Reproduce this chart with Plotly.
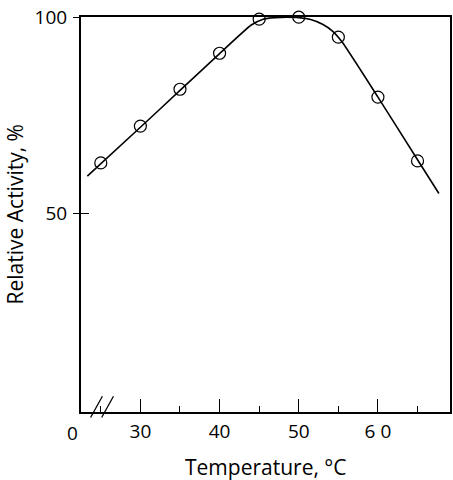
import plotly.graph_objects as go

# measured points
temp = [25, 30, 35, 40, 45, 50, 55, 60, 65]
activity = [62.8, 72.2, 81.6, 90.8, 99.5, 100.0, 94.9, 79.6, 63.3]

# hand-drawn fit curve
curve_t = [23.3, 30, 35, 40, 44, 45.5, 47, 48.5, 50, 51.5, 53, 54.3, 55.5, 60, 65, 67.7]
curve_y = [59.4, 71.9, 81.3, 90.7, 98.0, 99.5, 99.9, 100.0, 99.9, 99.4, 98.2, 96.4, 93.6, 79.6, 63.6, 55.0]

major_ticks = [30, 40, 50, 60]
major_labels = ["30", "40", "50", "6 0"]
y_ticks = [50, 100]

font = "Open Sans"

fig = go.Figure()
fig.add_trace(go.Scatter(x=curve_t, y=curve_y, mode="lines",
                         line=dict(color="black", width=1.6, shape="spline", smoothing=0.5),
                         hoverinfo="skip", showlegend=False))
fig.add_trace(go.Scatter(x=temp, y=activity, mode="markers",
                         marker=dict(symbol="circle-open", size=12, color="black",
                                     line=dict(width=1.2, color="black")),
                         cliponaxis=False, showlegend=False))
# second y axis only for the inner half of the y ticks
fig.add_trace(go.Scatter(x=[None], y=[None], yaxis="y2", showlegend=False))

fig.update_layout(
    width=453, height=480,
    margin=dict(l=81, r=3, t=17, b=68),
    paper_bgcolor="white", plot_bgcolor="white",
    font=dict(family=font, size=19, color="black"),
    xaxis=dict(range=[22.5, 69.1], showgrid=False, zeroline=False,
               showline=True, linecolor="black", linewidth=2, mirror=True,
               tickvals=major_ticks, ticktext=major_labels,
               ticks="inside", ticklen=13, tickwidth=1.3, tickcolor="black",
               minor=dict(dtick=5, tick0=35, ticks="inside", ticklen=6,
                          tickwidth=1.3, tickcolor="black", showgrid=False),
               ticklabelstandoff=1, automargin=False),
    yaxis=dict(range=[-0.8, 100.05], showgrid=False, zeroline=False,
               showline=True, linecolor="black", linewidth=2, mirror=True,
               tickvals=y_ticks, ticks="outside", ticklen=6, tickwidth=1.3,
               tickcolor="black", ticklabelstandoff=2, ticklabeloverflow="allow",
               automargin=False),
    yaxis2=dict(overlaying="y", matches="y", side="left", showgrid=False,
                zeroline=False, showline=False, tickvals=y_ticks, ticks="inside",
                ticklen=8, tickwidth=1.3, tickcolor="black", showticklabels=False),
)

# axis titles placed by hand
fig.add_annotation(x=0.5, y=-0.139, xref="paper", yref="paper",
                   text="Temperature, °C", showarrow=False, yanchor="middle",
                   font=dict(size=21))
fig.add_annotation(x=-0.179, y=0.5, xref="paper", yref="paper",
                   text="Relative Activity, %", showarrow=False, textangle=-90,
                   xanchor="center", font=dict(size=21))

# the "0" at the broken start of the x axis
fig.add_annotation(x=-0.044, y=-0.052, xref="paper", yref="paper", text="0",
                   showarrow=False, yanchor="middle", font=dict(size=19))
# axis break marks
for x0 in [0.026, 0.056]:
    fig.add_shape(type="line", xref="paper", yref="paper",
                  x0=x0, y0=-0.014, x1=x0 + 0.032, y1=0.04,
                  line=dict(color="black", width=1.3))

# drop the page's default body margin so the figure sits at the window corner
fig.write_html("out.html", config={"displayModeBar": False},
               post_script="document.body.style.margin='0';")
